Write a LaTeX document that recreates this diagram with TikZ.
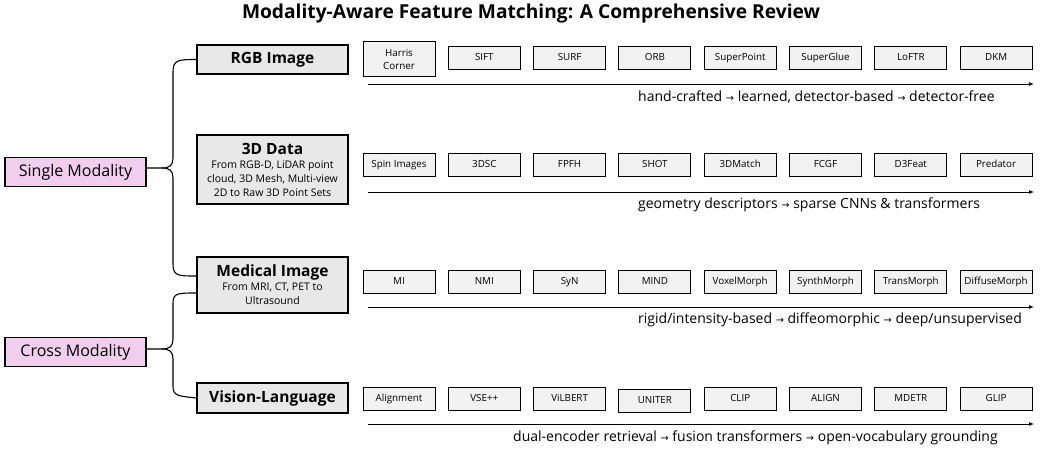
\documentclass[tikz,border=0pt]{standalone}
\usepackage{graphicx}
\usepackage{fontspec}
\setmainfont{Open Sans}
\newfontfamily\arrfont{DejaVu Sans}
\usetikzlibrary{arrows.meta,calc}
\definecolor{pinkbox}{RGB}{241,206,238}
\definecolor{modgray}{RGB}{232,232,232}
\definecolor{itemgray}{RGB}{242,242,242}
\newcommand\ra{{\arrfont\scalebox{0.7}{→}}}
\begin{document}
\begin{tikzpicture}[x=1pt,y=-1pt,
  cat/.style={draw=black, line width=1.1pt, fill=pinkbox, minimum width=141pt, minimum height=29pt, inner sep=0pt, font=\fontsize{16}{18}\selectfont},
  modbox/.style={draw=black, line width=1.1pt, fill=modgray, minimum width=151pt, inner sep=0pt, align=center},
  itembase/.style={draw=black, line width=0.9pt, fill=itemgray, minimum width=72pt, minimum height=23pt, inner sep=0pt, font=\fontsize{9.8}{13}\selectfont},
  item/.style={itembase, text height=7.3pt, text depth=2.2pt},
  brace/.style={line width=1.1pt},
  timeline/.style={line width=1pt, -{Latex[length=5pt,width=4pt]}},
  lbl/.style={anchor=west, inner sep=0pt, font=\fontsize{14}{16}\selectfont},
  modtitle/.style={font=\fontsize{15.5}{18}\selectfont\bfseries},
  moddesc/.style={font=\fontsize{10.5}{14}\selectfont}
]
\useasboundingbox (0,0) rectangle (1063,453);

\node[font=\fontsize{19.2}{22}\selectfont\bfseries] (title) at (531,14) {Modality-Aware Feature Matching: A Comprehensive Review};

% category boxes
\node[cat] (sm) at (75.5,172) {Single Modality};
\node[cat] (cm) at (75.5,352) {Cross Modality};

% modality boxes
\node[modbox, minimum height=29pt, modtitle] (rgb) at (272.5,59.5) {RGB Image};
\node[modbox, moddesc, minimum height=69pt] (d3) at (272.5,169.5) {{\fontsize{15.5}{17}\selectfont\bfseries 3D Data}\\[0pt]From RGB-D, LiDAR point\\cloud, 3D Mesh, Multi-view\\2D to Raw 3D Point Sets};
\node[modbox, moddesc, minimum height=56pt] (med) at (272.5,285) {{\fontsize{15.5}{17}\selectfont\bfseries Medical Image}\\[0pt]From MRI, CT, PET to\\Ultrasound};
\node[modbox, minimum height=30pt, modtitle] (vl) at (272.5,398) {Vision-Language};

% braces
\draw[brace] (rgb.west) .. controls (178,59.5) and (173,60) .. (173,72) -- (173,158)
  .. controls (173,165) and (170,168) .. (162,168) -- (sm.east |- 0,168);
\draw[brace] ($(med.west)+(0,-9)$) .. controls (178,276) and (173,276) .. (173,264) -- (173,178)
  .. controls (173,171) and (170,168) .. (162,168);
\draw[brace] ($(med.west)+(0,8)$) .. controls (178,293) and (173,293) .. (173,303) -- (173,339)
  .. controls (173,346) and (170,349) .. (162,349) -- (cm.east |- 0,349);
\draw[brace] (vl.west) .. controls (178,396) and (173,396) .. (173,386) -- (173,359)
  .. controls (173,352) and (170,349) .. (162,349);

% row 1
\node[itembase, minimum height=35pt, align=center] (r1-0) at (399,59) {Harris\\Corner};
\foreach \t [count=\i] in {SIFT,SURF,ORB,SuperPoint,SuperGlue,LoFTR,DKM}
  \node[item] (r1-\i) at ({399+85.3*\i},58) {\t};
% row 2
\foreach \t [count=\i from 0] in {Spin Images,3DSC,FPFH,SHOT,3DMatch,FCGF,D3Feat,Predator}
  \node[item] (r2-\i) at ({399+85.3*\i},164.5) {\t};
% row 3
\foreach \t [count=\i from 0] in {MI,NMI,SyN,MIND,VoxelMorph,SynthMorph,TransMorph,DiffuseMorph}
  \node[item] (r3-\i) at ({399+85.3*\i},281.5) {\t};
% row 4
\foreach \t [count=\i from 0] in {Alignment,VSE++,ViLBERT}
  \node[item] (r4-\i) at ({399+85.3*\i},398.5) {\t};
\node[item] (r4-3) at ({399+85.3*3},400.5) {UNITER};
\foreach \t [count=\i from 4] in {CLIP,ALIGN,MDETR,GLIP}
  \node[item] (r4-\i) at ({399+85.3*\i},398.5) {\t};

% timelines
\coordinate (a1s) at (368,84);  \coordinate (a1e) at (1034,84);
\coordinate (a2s) at (368,192); \coordinate (a2e) at (1034,192);
\coordinate (a3s) at (368,307); \coordinate (a3e) at (1034,307);
\coordinate (a4s) at (368,424); \coordinate (a4e) at (1034,424);
\draw[timeline] (a1s) -- (a1e);
\draw[timeline] (a2s) -- (a2e);
\draw[timeline] (a3s) -- (a3e);
\draw[timeline] (a4s) -- (a4e);

\node[lbl] (l1) at (638,97) {hand-crafted \ra{} learned, detector-based \ra{} detector-free};
\node[lbl] (l2) at (638,205) {geometry descriptors \ra{} sparse CNNs \& transformers};
\node[lbl] (l3) at (638,320) {rigid/intensity-based \ra{} diffeomorphic \ra{} deep/unsupervised};
\node[lbl] (l4) at (513,438) {dual-encoder retrieval \ra{} fusion transformers \ra{} open-vocabulary grounding};
\end{tikzpicture}
\end{document}
